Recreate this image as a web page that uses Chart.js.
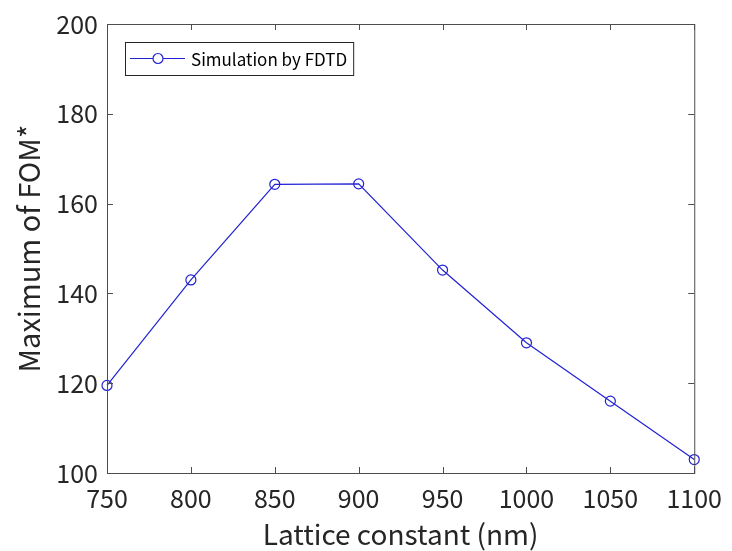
<!DOCTYPE html>
<html>
<head>
<meta charset="utf-8">
<title>Maximum of FOM* vs Lattice constant</title>
<script src="https://cdn.jsdelivr.net/npm/chart.js@4.4.1/dist/chart.umd.min.js"></script>
<style>
    html, body { margin: 0; padding: 0; background: #ffffff; }
    #wrap { width: 732px; height: 551px; }
</style>
</head>
<body>
<div id="wrap"><canvas id="fomChart" width="732" height="551"></canvas></div>
<script>
// Data
const latticeConstants = [750, 800, 850, 900, 950, 1000, 1050, 1100];
const maxFom = [119.5, 143.0, 164.3, 164.4, 145.2, 129.0, 116.0, 103.0];
const seriesLabel = 'Simulation by FDTD';
const xTitle = 'Lattice constant (nm)';
const yTitle = 'Maximum of FOM*';

const FONT = '"Noto Sans CJK JP", "Noto Sans", sans-serif';
const TEXT_COLOR = '#262626';
const AXIS_COLOR = '#4d4d4d';
const LINE_COLOR = '#2222d4';

// Box around the plot with inward ticks on all four sides, plus the legend
const boxPlugin = {
    id: 'matlabBox',
    afterDraw(chart) {
        const ctx = chart.ctx;
        const area = chart.chartArea;
        const xs = chart.scales.x;
        const ys = chart.scales.y;
        const tick = 6;

        ctx.save();
        ctx.strokeStyle = AXIS_COLOR;
        ctx.lineWidth = 1;
        ctx.strokeRect(area.left + 0.5, area.top + 0.5, area.right - area.left, area.bottom - area.top);

        ctx.beginPath();
        xs.ticks.forEach(t => {
            const px = Math.round(xs.getPixelForValue(t.value)) + 0.5;
            ctx.moveTo(px, area.bottom);
            ctx.lineTo(px, area.bottom - tick);
            ctx.moveTo(px, area.top);
            ctx.lineTo(px, area.top + tick);
        });
        ys.ticks.forEach(t => {
            const py = Math.round(ys.getPixelForValue(t.value)) + 0.5;
            ctx.moveTo(area.left, py);
            ctx.lineTo(area.left + tick, py);
            ctx.moveTo(area.right, py);
            ctx.lineTo(area.right - tick, py);
        });
        ctx.stroke();

        // Legend box
        ctx.font = '17px ' + FONT;
        const textW = ctx.measureText(seriesLabel).width;
        const lx = area.left + 18;
        const ly = area.top + 18;
        const lh = 33;
        const lw = 66 + textW + 6;
        ctx.fillStyle = '#ffffff';
        ctx.fillRect(lx, ly, lw, lh);
        ctx.strokeStyle = '#262626';
        ctx.strokeRect(lx + 0.5, ly + 0.5, lw, lh);

        const cy = ly + lh / 2;
        ctx.strokeStyle = LINE_COLOR;
        ctx.lineWidth = 1.2;
        ctx.beginPath();
        ctx.moveTo(lx + 5, cy);
        ctx.lineTo(lx + 60, cy);
        ctx.stroke();
        ctx.beginPath();
        ctx.arc(lx + 33, cy, 5, 0, Math.PI * 2);
        ctx.fillStyle = '#ffffff';
        ctx.fill();
        ctx.stroke();

        ctx.fillStyle = '#000000';
        ctx.textBaseline = 'middle';
        ctx.fillText(seriesLabel, lx + 66, cy + 1);
        ctx.restore();
    }
};

const ctx = document.getElementById('fomChart').getContext('2d');
const chart = new Chart(ctx, {
    type: 'line',
    data: {
        datasets: [{
            label: seriesLabel,
            data: latticeConstants.map((x, i) => ({ x: x, y: maxFom[i] })),
            borderColor: LINE_COLOR,
            borderWidth: 1.2,
            backgroundColor: 'rgba(0,0,0,0)',
            pointStyle: 'circle',
            pointRadius: 5,
            pointBorderWidth: 1.2,
            pointBorderColor: LINE_COLOR,
            pointBackgroundColor: 'rgba(0,0,0,0)',
            tension: 0,
            clip: false
        }]
    },
    options: {
        responsive: false,
        animation: false,
        layout: {
            padding: { left: 0, right: 32, top: 17, bottom: 0 }
        },
        plugins: {
            legend: { display: false },
            tooltip: { enabled: false }
        },
        scales: {
            x: {
                type: 'linear',
                min: 750,
                max: 1100,
                afterFit: s => { s.height = 78; },
                ticks: {
                    stepSize: 50,
                    color: TEXT_COLOR,
                    font: { family: FONT, size: 25 },
                    padding: 10,
                    maxRotation: 0,
                    callback: v => String(v)
                },
                grid: { display: false, drawTicks: false },
                border: { display: false },
                title: {
                    display: true,
                    text: xTitle,
                    color: TEXT_COLOR,
                    font: { family: FONT, size: 28 },
                    padding: { top: 0, bottom: 0 }
                }
            },
            y: {
                min: 100,
                max: 200,
                afterFit: s => { s.width = 107; },
                ticks: {
                    stepSize: 20,
                    color: TEXT_COLOR,
                    font: { family: FONT, size: 25 },
                    padding: 9
                },
                grid: { display: false, drawTicks: false },
                border: { display: false },
                title: {
                    display: true,
                    text: yTitle,
                    color: TEXT_COLOR,
                    font: { family: FONT, size: 29 },
                    padding: { top: 12, bottom: 0 }
                }
            }
        }
    },
    plugins: [boxPlugin]
});
</script>
</body>
</html>
